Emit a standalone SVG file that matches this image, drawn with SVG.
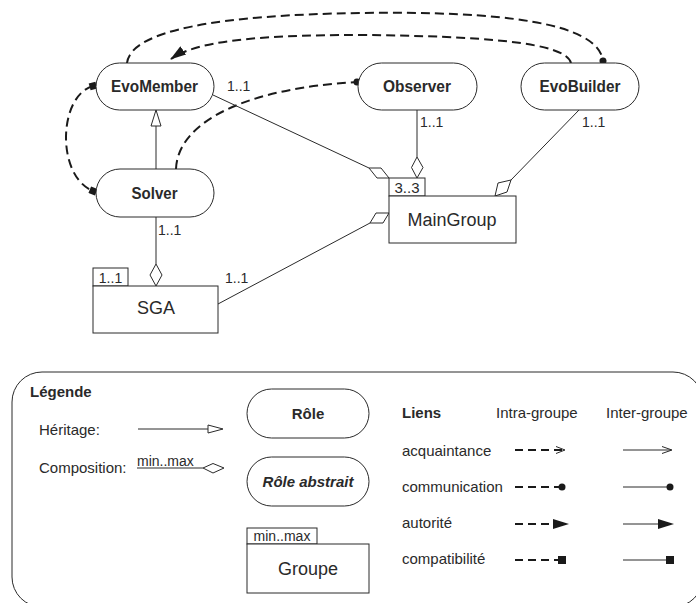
<svg xmlns="http://www.w3.org/2000/svg" width="696" height="603" viewBox="0 0 696 603">
  <style>
    text { font-family: "Liberation Sans", Arial, sans-serif; fill: #2a2a2a; }
    .role { fill: #fff; stroke: #2a2a2a; stroke-width: 1; }
    .grp { fill: #fff; stroke: #2a2a2a; stroke-width: 1; }
    .rname { font-size: 17px; font-weight: bold; text-anchor: middle; }
    .gname { font-size: 18px; text-anchor: middle; }
    .card { font-size: 14px; }
    .tab { font-size: 15px; }
    .leg { font-size: 15px; }
    .legb { font-size: 15px; font-weight: bold; }
    .small { font-size: 14px; }
    .thin { fill: none; stroke: #2a2a2a; stroke-width: 1; }
    .dash { fill: none; stroke: #1a1a1a; stroke-width: 2; stroke-dasharray: 9 5; }
    .ldash { fill: none; stroke: #1a1a1a; stroke-width: 2; stroke-dasharray: 8 5; }
    .diam { fill: #fff; stroke: #2a2a2a; stroke-width: 1; }
    .solid { fill: #1a1a1a; stroke: none; }
  </style>
  <defs>
    <marker id="dot" markerUnits="userSpaceOnUse" markerWidth="8" markerHeight="8" refX="4" refY="4" orient="auto">
      <circle cx="4" cy="4" r="3.5" fill="#1a1a1a"/>
    </marker>
    <marker id="sq" markerUnits="userSpaceOnUse" markerWidth="8" markerHeight="8" refX="4" refY="4" orient="auto">
      <rect x="0.5" y="0.5" width="7" height="7" fill="#1a1a1a"/>
    </marker>
    <marker id="arr" markerUnits="userSpaceOnUse" markerWidth="16" markerHeight="10" refX="15" refY="5" orient="auto">
      <path d="M0,0 L16,5 L0,10 z" fill="#1a1a1a"/>
    </marker>
  </defs>

  <!-- connectors -->
  <g id="connectors">
    <!-- EvoMember -> EvoBuilder communication -->
    <path class="dash" d="M127,63 C131,30 220,15 360,13 C500,11 598,22 603,61" marker-end="url(#dot)"/>
    <!-- EvoBuilder -> EvoMember authority -->
    <path class="dash" d="M571,63 C566,42 480,36 360,35 C250,35 195,42 171,59" marker-end="url(#arr)"/>
    <!-- EvoMember <-> Solver compatibility -->
    <path class="dash" d="M93,86 C58,96 56,176 93,191" marker-start="url(#sq)" marker-end="url(#sq)"/>
    <!-- Solver -> Observer communication -->
    <path class="dash" d="M176,169 C178,120 250,88 357,82" marker-end="url(#dot)"/>
    <!-- inheritance Solver -> EvoMember -->
    <line class="thin" x1="156" y1="169" x2="156" y2="126"/>
    <polygon class="diam" points="156,110 161,126 151,126"/>
    <!-- compositions into MainGroup -->
    <line class="thin" x1="213" y1="95" x2="369" y2="168"/>
    <polygon class="diam" points="369,168 381,168 389,178 377,178"/>
    <line class="thin" x1="417" y1="110" x2="417" y2="157"/>
    <polygon class="diam" points="417,157 423,167.5 417,178 411.5,167.5"/>
    <line class="thin" x1="579" y1="110" x2="511" y2="180"/>
    <polygon class="diam" points="511,180 507,192 495,196 498,183"/>
    <!-- Solver -> SGA -->
    <line class="thin" x1="156" y1="217" x2="156" y2="264"/>
    <polygon class="diam" points="156,264 162,275 156,286 150,275"/>
    <!-- SGA -> MainGroup -->
    <line class="thin" x1="218" y1="304" x2="370" y2="223"/>
    <polygon class="diam" points="370,223 376,213 389,213 383,223"/>
    <!-- cardinalities -->
    <text class="card" x="227" y="91">1..1</text>
    <text class="card" x="420" y="127">1..1</text>
    <text class="card" x="582" y="127">1..1</text>
    <text class="card" x="158" y="235">1..1</text>
    <text class="card" x="225" y="283">1..1</text>
  </g>

  <!-- roles -->
  <g id="EvoMember">
    <rect class="role" x="96" y="63" width="118" height="47" rx="23.5"/>
    <text class="rname" x="154.5" y="92" textLength="87" lengthAdjust="spacingAndGlyphs">EvoMember</text>
  </g>
  <g id="Solver">
    <rect class="role" x="96" y="169" width="118" height="48" rx="24"/>
    <text class="rname" x="154.5" y="199" textLength="46" lengthAdjust="spacingAndGlyphs">Solver</text>
  </g>
  <g id="Observer">
    <rect class="role" x="358" y="63" width="119" height="47" rx="23.5"/>
    <text class="rname" x="417" y="92" textLength="68" lengthAdjust="spacingAndGlyphs">Observer</text>
  </g>
  <g id="EvoBuilder">
    <rect class="role" x="521" y="63" width="118" height="47" rx="23.5"/>
    <text class="rname" x="580" y="92" textLength="81" lengthAdjust="spacingAndGlyphs">EvoBuilder</text>
  </g>

  <!-- groups -->
  <g id="MainGroup">
    <rect class="grp" x="389" y="178" width="36" height="18"/>
    <text class="tab" x="407" y="193" text-anchor="middle">3..3</text>
    <rect class="grp" x="389" y="196" width="127" height="47"/>
    <text class="gname" x="452" y="226">MainGroup</text>
  </g>
  <g id="SGA">
    <rect class="grp" x="93" y="268" width="35" height="18"/>
    <text class="small" x="110.5" y="283" text-anchor="middle">1..1</text>
    <rect class="grp" x="93" y="286" width="125" height="47"/>
    <text class="gname" x="156" y="314">SGA</text>
  </g>

  <!-- legend -->
  <g id="legend">
    <rect x="12" y="372" width="691" height="235" rx="30" fill="none" stroke="#2a2a2a" stroke-width="1"/>
    <text class="legb" x="30" y="397">Légende</text>
    <text class="leg" x="39" y="435">Héritage:</text>
    <line class="thin" x1="138" y1="429" x2="208" y2="429"/>
    <polygon class="diam" points="208,425 223,429 208,433"/>
    <text class="leg" x="39" y="473">Composition:</text>
    <text class="small" x="137" y="466">min..max</text>
    <line class="thin" x1="137" y1="468" x2="203" y2="468"/>
    <polygon class="diam" points="203,468 213,463.5 224,468 213,473"/>

    <rect class="role" x="247" y="389" width="122" height="49" rx="24.5"/>
    <text class="legb" x="308" y="419" text-anchor="middle">Rôle</text>
    <rect class="role" x="247" y="457" width="122" height="49" rx="24.5"/>
    <text class="legb" x="308" y="487" text-anchor="middle" font-style="italic">Rôle abstrait</text>
    <rect class="grp" x="247" y="528" width="70" height="16"/>
    <text class="small" x="282" y="541" text-anchor="middle">min..max</text>
    <rect class="grp" x="247" y="544" width="122" height="49"/>
    <text class="gname" x="308" y="575">Groupe</text>

    <text class="legb" x="402" y="418">Liens</text>
    <text class="leg" x="496" y="418">Intra-groupe</text>
    <text class="leg" x="606" y="418">Inter-groupe</text>

    <text class="leg" x="402" y="456">acquaintance</text>
    <line class="ldash" x1="515" y1="450" x2="563" y2="450"/>
    <polyline class="thin" points="556,446.5 565,450 556,453.5"/>
    <line class="thin" x1="623" y1="450" x2="671" y2="450"/>
    <polyline class="thin" points="662,446.5 672,450 662,453.5"/>

    <text class="leg" x="402" y="492">communication</text>
    <line class="ldash" x1="515" y1="487" x2="560" y2="487"/>
    <circle class="solid" cx="562" cy="487" r="3.5"/>
    <line class="thin" x1="623" y1="487" x2="669" y2="487"/>
    <circle class="solid" cx="670" cy="487" r="3.5"/>

    <text class="leg" x="402" y="528">autorité</text>
    <line class="ldash" x1="515" y1="524" x2="556" y2="524"/>
    <polygon class="solid" points="553,519 569,524 553,529"/>
    <line class="thin" x1="623" y1="524" x2="660" y2="524"/>
    <polygon class="solid" points="658,519 674,524 658,529"/>

    <text class="leg" x="402" y="564">compatibilité</text>
    <line class="ldash" x1="515" y1="560" x2="560" y2="560"/>
    <rect class="solid" x="558" y="556" width="8" height="8"/>
    <line class="thin" x1="623" y1="560" x2="667" y2="560"/>
    <rect class="solid" x="666" y="556" width="8" height="8"/>
  </g>
</svg>
